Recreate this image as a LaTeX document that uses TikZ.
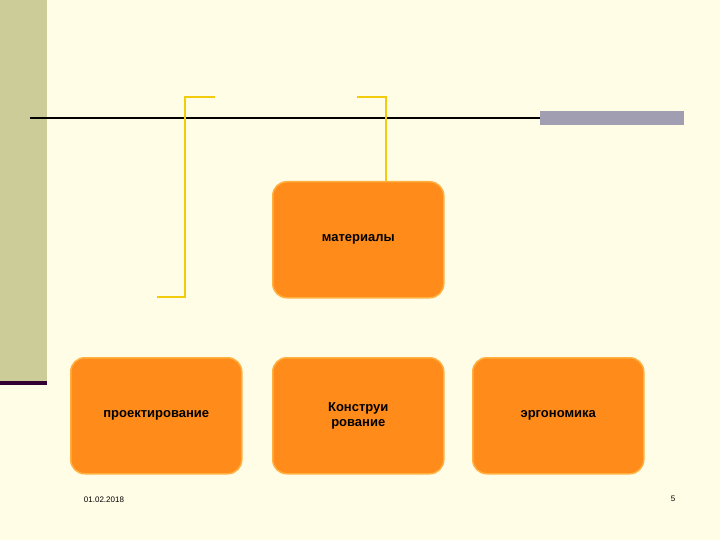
\documentclass[tikz,border=0pt]{standalone}
\usepackage{fontspec}
\setmainfont{Liberation Sans}
\definecolor{bg}{HTML}{FFFDE6}
\definecolor{bar}{HTML}{CCCC99}
\definecolor{dpurple}{HTML}{330033}
\definecolor{gbar}{HTML}{A09EB0}
\definecolor{yel}{HTML}{F2CC0C}
\definecolor{orng}{HTML}{FF8C1A}
\definecolor{orb}{HTML}{FFB040}
\begin{document}
\begin{tikzpicture}[x=1pt,y=-1pt,
  box/.style={draw=orb,line width=1.5pt,fill=orng,rounded corners=14pt,minimum width=171pt,minimum height=116pt,anchor=north west,align=center,font=\bfseries\fontsize{13}{15}\selectfont},
  brk/.style={draw=yel,line width=2pt}]
\fill[bg] (0,0) rectangle (720,540);
\useasboundingbox (0,0) rectangle (720,540);
\fill[bar] (0,0) rectangle (47,385);
\fill[dpurple] (0,381) rectangle (47,385);
\draw[line width=2pt] (30,118) -- (540,118);
\fill[gbar] (540,111) rectangle (684,125);
\draw[brk] (215,97) -- (185,97) -- (185,297) -- (157,297);
\draw[brk] (357,97) -- (386,97) -- (386,297) -- (415,297);
\node[box] (m) at (272,181) {материалы};
\node[box] (p) at (70,357) {проектирование};
\node[box] (k) at (272,357) {Конструи\\рование};
\node[box] (e) at (472,357) {эргономика};
\node[font=\fontsize{8}{10}\selectfont] (d) at (104,500) {01.02.2018};
\node[font=\fontsize{8}{10}\selectfont] (n) at (673,499) {5};
\end{tikzpicture}
\end{document}
